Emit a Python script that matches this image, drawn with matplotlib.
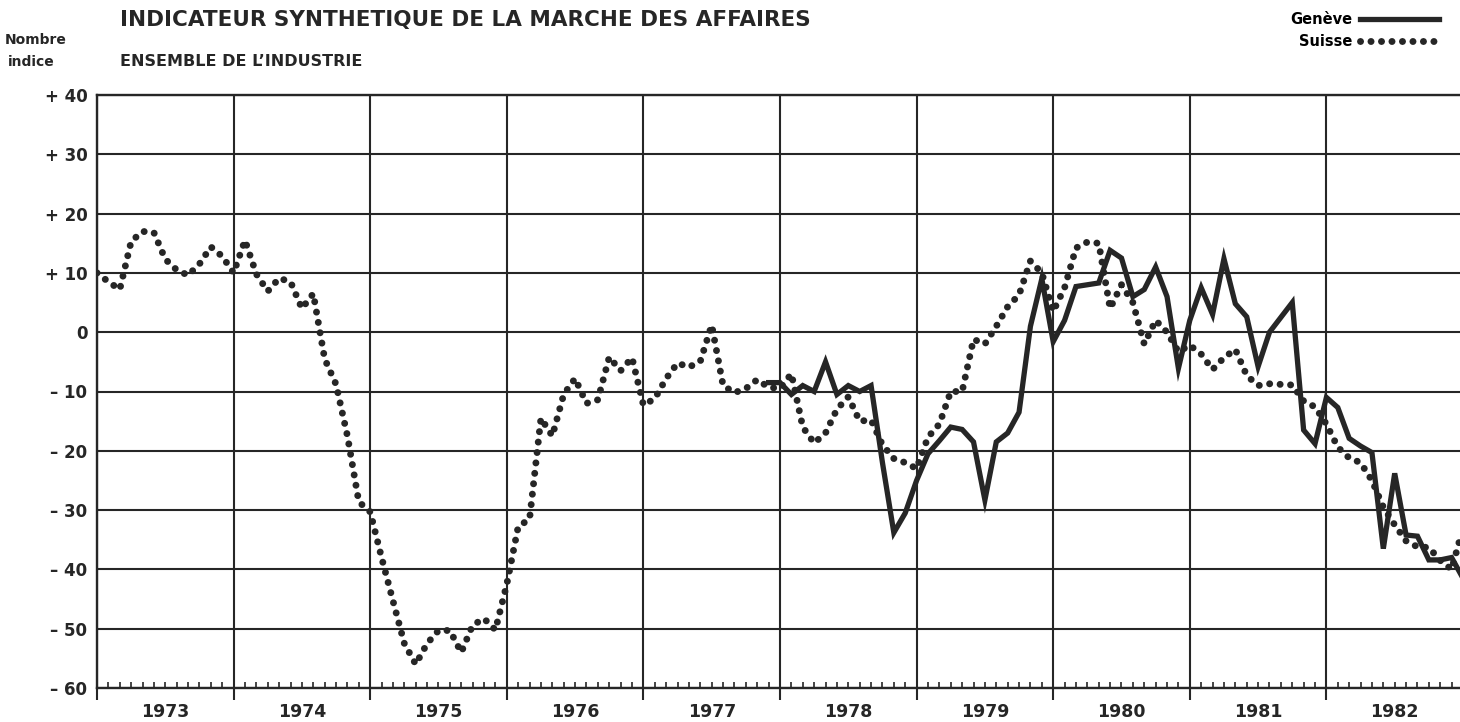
import numpy as np
from matplotlib import pyplot as plt

# monthly index values
suisse_start = 1973
suisse = [
    10.0, 8.5, 7.2, 15.3, 17.0, 16.8, 12.3, 10.5, 9.6, 11.5, 14.4, 12.8,            # 1973
    10.0, 15.5, 9.8, 6.9, 9.1, 8.5, 4.0, 6.5, -4.5, -8.8, -17.5, -28.6,             # 1974
    -30.3, -38.0, -45.3, -52.5, -56.0, -52.5, -50.3, -50.3, -54.0, -49.4, -48.3, -50.2,  # 1975
    -42.5, -32.8, -31.5, -14.5, -17.5, -10.5, -7.8, -12.0, -11.4, -4.2, -6.5, -4.3,  # 1976
    -12.3, -11.2, -7.8, -5.2, -5.9, -4.9, 1.2, -9.0, -10.2, -9.5, -8.0, -9.3,       # 1977
    -9.5, -7.0, -16.0, -18.7, -17.0, -13.0, -10.9, -15.0, -14.8, -19.0, -21.3, -22.0,  # 1978
    -23.0, -17.7, -15.5, -10.0, -10.0, -1.2, -2.0, 1.0, 4.3, 6.3, 12.0, 10.0,       # 1979
    3.5, 7.5, 14.2, 15.2, 15.0, 4.0, 8.0, 5.0, -2.0, 2.0, 0.0, -3.3,                # 1980
    -2.2, -3.7, -6.3, -4.3, -2.9, -7.3, -9.0, -8.7, -8.8, -8.9, -11.6, -12.6,       # 1981
    -15.5, -19.4, -21.2, -22.0, -25.0, -29.5, -32.5, -35.2, -36.2, -36.3, -38.5, -40.0,  # 1982
    -33.0,
]

geneve_start = 1977 + 11 / 12
geneve = [
    -8.5,                                                                            # 1977 Dec
    -8.5, -10.5, -9.0, -10.0, -5.0, -10.5, -9.0, -10.0, -9.0, -22.0, -33.8, -30.5,  # 1978
    -25.0, -20.5, -18.3, -16.0, -16.4, -18.5, -28.3, -18.5, -17.0, -13.5, 1.0, 9.0, # 1979
    -1.6, 2.0, 7.7, 8.0, 8.3, 13.8, 12.5, 6.0, 7.2, 11.0, 6.0, -6.1,                # 1980
    2.0, 7.5, 3.0, 12.4, 4.8, 2.6, -5.8, 0.0, 2.5, 5.0, -16.5, -18.8,               # 1981
    -11.0, -12.7, -17.9, -19.2, -20.3, -36.5, -23.8, -34.2, -34.4, -38.4, -38.4, -38.0,  # 1982
    -41.5,
]

years = list(range(1973, 1984))
year_labels = [str(y) for y in range(1973, 1983)]
y_ticks = list(range(-60, 41, 10))
y_labels = ["– 60", "– 50", "– 40", "– 30", "– 20", "– 10", "0",
            "+ 10", "+ 20", "+ 30", "+ 40"]

plt.rcParams["font.family"] = ["DejaVu Sans"]
ink = "#262626"

x_suisse = suisse_start + np.arange(len(suisse)) / 12
x_geneve = geneve_start + np.arange(len(geneve)) / 12

fig = plt.figure(figsize=(14.6, 7.22), dpi=100)
ax = fig.add_axes([97 / 1460, 34 / 722, 1366 / 1460, 593 / 722])

ax.plot(
    x_suisse, suisse,
    color=ink, linewidth=5.0,
    linestyle=(0, (0.01, 1.5)),
    dash_capstyle="round",
    label="Suisse",
    zorder=3,
)
ax.plot(
    x_geneve, geneve,
    color=ink, linewidth=3.8,
    solid_joinstyle="miter",
    label="Genève",
    zorder=4,
)

ax.set_xlim(1973, 1983)
ax.set_ylim(-60, 40)

ax.set_xticks(years)
ax.set_xticks(np.arange(1973, 1983, 1 / 12), minor=True)
ax.set_xticklabels([])
ax.tick_params(axis="x", which="major", direction="out", length=8.5,
               width=1.5, color=ink)
ax.tick_params(axis="x", which="minor", direction="in", length=4.6,
               width=1.2, color=ink)

ax.set_yticks(y_ticks)
ax.set_yticklabels(y_labels, fontsize=12, fontweight="bold", color=ink)
ax.tick_params(axis="y", length=0, pad=7)

ax.grid(True, which="major", color=ink, linewidth=1.5)
for side in ax.spines.values():
    side.set_color(ink)
    side.set_linewidth(1.7)

for y, lab in zip(range(1973, 1983), year_labels):
    ax.text(y + 0.5, -0.041, lab, transform=ax.get_xaxis_transform(),
            ha="center", va="center", fontsize=12.5, fontweight="bold",
            color=ink)

fig.text(120 / 1460, 1 - 20 / 722,
         "INDICATEUR SYNTHETIQUE DE LA MARCHE DES AFFAIRES",
         ha="left", va="center", fontsize=15.5, fontweight="bold", color=ink)
fig.text(120 / 1460, 1 - 61 / 722, "ENSEMBLE DE L’INDUSTRIE",
         ha="left", va="center", fontsize=11.5, fontweight="bold", color=ink)
fig.text(5 / 1460, 1 - 40 / 722, "Nombre",
         ha="left", va="center", fontsize=10, fontweight="bold", color=ink)
fig.text(8 / 1460, 1 - 62 / 722, "indice",
         ha="left", va="center", fontsize=10, fontweight="bold", color=ink)

handles, labels = ax.get_legend_handles_labels()
fig.legend(
    handles[::-1], labels[::-1],
    loc="upper right",
    bbox_to_anchor=(1446 / 1460, 1 - 5 / 722),
    frameon=False,
    markerfirst=False,
    handlelength=5.4,
    handletextpad=0.5,
    labelspacing=0.45,
    borderpad=0,
    prop={"weight": "bold", "size": 10.5},
)

fig.savefig("out.png", dpi=100, facecolor="white")
